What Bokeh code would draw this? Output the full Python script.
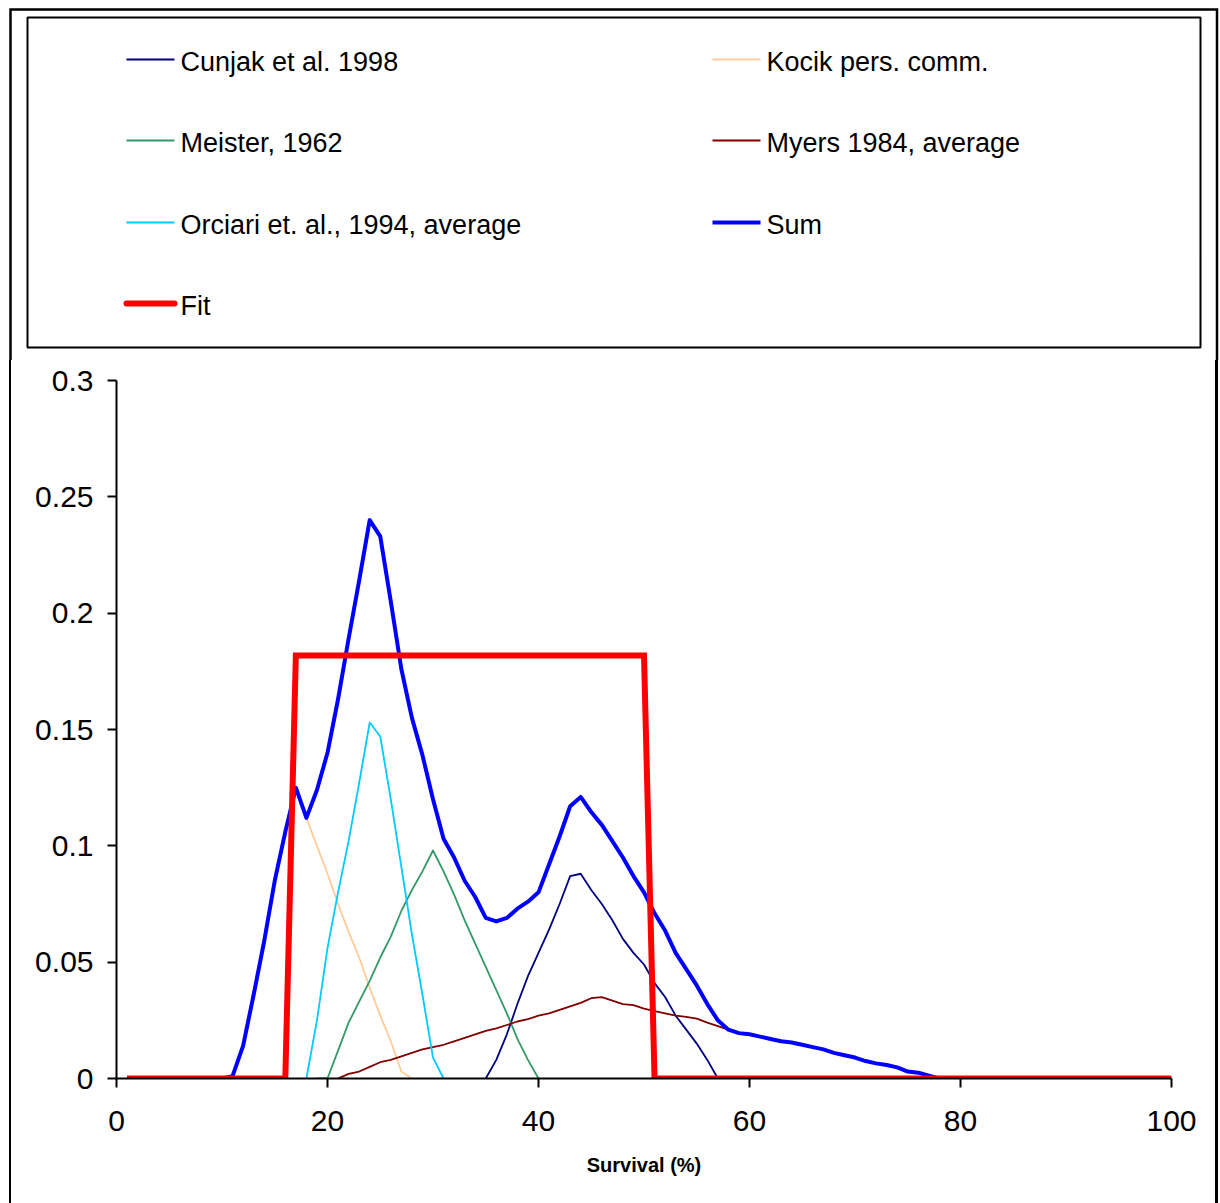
from bokeh.plotting import figure
from bokeh.layouts import column, row
from bokeh.models import FixedTicker, Range1d, Div
from bokeh.core.properties import value
from bokeh.embed import file_html
from bokeh.resources import INLINE

# ---------------- data ----------------
survival = list(range(1, 101))

sum_y = [0, 0, 0, 0, 0, 0, 0, 0, 0, 0,
         0.001, 0.014, 0.036, 0.059, 0.085, 0.106, 0.125, 0.112, 0.124, 0.140,
         0.163, 0.189, 0.214, 0.240, 0.233, 0.205, 0.176, 0.155, 0.139, 0.120,
         0.103, 0.095, 0.085, 0.078, 0.069, 0.0675, 0.069, 0.073, 0.076, 0.080,
         0.092, 0.104, 0.117, 0.121, 0.1145, 0.109, 0.102, 0.095, 0.087, 0.080,
         0.071, 0.0636, 0.054, 0.047, 0.040, 0.032, 0.025, 0.021, 0.0195, 0.019,
         0.018, 0.017, 0.016, 0.0155, 0.0145, 0.0135, 0.0125, 0.011, 0.010, 0.009,
         0.0075, 0.0065, 0.0058, 0.0048, 0.003, 0.0025, 0.0012, 0, 0, 0,
         0, 0, 0, 0, 0, 0, 0, 0, 0, 0,
         0, 0, 0, 0, 0, 0, 0, 0, 0, 0]

cunjak_x = list(range(35, 58))
cunjak_y = [0, 0.008, 0.019, 0.032, 0.044, 0.054, 0.064, 0.075, 0.087, 0.088,
            0.081, 0.075, 0.068, 0.060, 0.054, 0.049, 0.041, 0.035, 0.027, 0.021,
            0.015, 0.008, 0]

kocik_x = list(range(11, 29))
kocik_y = [0.001, 0.014, 0.036, 0.059, 0.085, 0.106, 0.125, 0.112, 0.100, 0.088,
           0.075, 0.063, 0.052, 0.039, 0.027, 0.016, 0.003, 0]

meister_x = list(range(19, 41))
meister_y = [0, 0, 0.012, 0.024, 0.033, 0.042, 0.052, 0.061, 0.072, 0.081,
             0.089, 0.098, 0.089, 0.079, 0.068, 0.058, 0.048, 0.038, 0.028, 0.017,
             0.008, 0]

myers_x = list(range(21, 79))
myers_y = [0, 0.002, 0.003, 0.005, 0.007, 0.008, 0.0095, 0.011, 0.0125, 0.0135,
           0.0145, 0.016, 0.0175, 0.019, 0.0205, 0.0215, 0.023, 0.0245, 0.0255, 0.027,
           0.028, 0.0295, 0.031, 0.0325, 0.0345, 0.035, 0.0335, 0.032, 0.0315, 0.030,
           0.029, 0.028, 0.027, 0.0265, 0.0257, 0.024, 0.0225, 0.021, 0.0195, 0.019,
           0.018, 0.017, 0.016, 0.0155, 0.0145, 0.0135, 0.0125, 0.011, 0.010, 0.009,
           0.0075, 0.0065, 0.0058, 0.0048, 0.003, 0.0025, 0.0012, 0]

orciari_x = list(range(18, 32))
orciari_y = [0, 0.025, 0.056, 0.080, 0.102, 0.127, 0.153, 0.147, 0.120, 0.091,
             0.062, 0.036, 0.009, 0]

fit_x = [1, 16, 17, 50, 51, 100]
fit_y = [0, 0, 0.1818, 0.1818, 0, 0]

x_ticks = [0, 20, 40, 60, 80, 100]
y_ticks = [0, 0.05, 0.1, 0.15, 0.2, 0.25, 0.3]
y_tick_labels = ["0", "0.05", "0.1", "0.15", "0.2", "0.25", "0.3"]

series_names = ["Cunjak et al. 1998", "Kocik pers. comm.", "Meister, 1962",
                "Myers 1984, average", "Orciari et. al., 1994, average", "Sum", "Fit"]

# ---------------- styles ----------------
FONT = "Liberation Sans"
styles = {
    "Cunjak et al. 1998": dict(color="#000080", width=1.8),
    "Kocik pers. comm.": dict(color="#FFCC99", width=1.8),
    "Meister, 1962": dict(color="#339966", width=1.8),
    "Myers 1984, average": dict(color="#800000", width=1.8),
    "Orciari et. al., 1994, average": dict(color="#00CCFF", width=1.8),
    "Sum": dict(color="#0000FF", width=4),
    "Fit": dict(color="#FF0000", width=6),
}

W = 1220
TOP_H = 360
BOT_H = 1203 - TOP_H
STRIP = 12


def blank_fig(w, h):
    f = figure(width=w, height=h, output_backend="svg", toolbar_location=None,
               x_range=Range1d(0, w), y_range=Range1d(h, 0),
               x_axis_location=None, y_axis_location=None,
               min_border=0, min_border_left=0, min_border_right=0,
               min_border_top=0, min_border_bottom=0)
    f.outline_line_color = None
    f.grid.visible = False
    f.background_fill_color = "white"
    f.border_fill_color = "white"
    return f


# ---------------- legend panel (top) ----------------
top = blank_fig(W, TOP_H)
# chart-area border (top, left, right parts)
top.multi_line(xs=[[10, 10, 1216.5, 1216.5]], ys=[[TOP_H, 9, 9, TOP_H]],
               line_color="black", line_width=2.5, line_join="miter")
# legend frame
top.quad(left=[27], right=[1200], top=[17], bottom=[347],
         fill_color=None, line_color="black", line_width=2)

col_x = [126, 712]
row_y = [59, 140, 222, 303]
# legend reads across rows, two columns
for i, name in enumerate(series_names):
    cx = col_x[i % 2]
    ry = row_y[i // 2]
    st = styles[name]
    top.line([cx, cx + 48], [ry, ry], line_color=st["color"], line_width=st["width"],
             line_cap="round" if name == "Fit" else "butt")
    top.text(x=[cx + 54], y=[ry + 2], text=[name],
             text_font=value(FONT), text_font_size="27px", text_color="black",
             text_baseline="middle", text_align="left")

# ---------------- side strips (chart-area border) ----------------
left_strip = Div(width=STRIP, height=BOT_H, margin=0,
                 text='<div style="margin-left:8.75px;width:2.5px;height:%dpx;background:black"></div>' % BOT_H)
right_strip = Div(width=STRIP, height=BOT_H, margin=0,
                  text='<div style="margin-left:7.25px;width:2.5px;height:%dpx;background:black"></div>' % BOT_H)

# ---------------- main chart ----------------
p = figure(width=W - 2 * STRIP, height=BOT_H, output_backend="svg", toolbar_location=None,
           x_range=Range1d(0, 100), y_range=Range1d(0, 0.3),
           min_border_left=116 - STRIP, min_border_right=(W - STRIP) - 1171,
           min_border_top=380 - TOP_H, min_border_bottom=125)
p.outline_line_color = None
p.grid.visible = False
p.background_fill_color = "white"
p.border_fill_color = "white"

def draw(name, xs, ys, join="round"):
    st = styles[name]
    return p.line(xs, ys, line_color=st["color"], line_width=st["width"], line_join=join)

draw("Cunjak et al. 1998", cunjak_x, cunjak_y)
draw("Kocik pers. comm.", kocik_x, kocik_y)
draw("Meister, 1962", meister_x, meister_y)
draw("Myers 1984, average", myers_x, myers_y)
draw("Orciari et. al., 1994, average", orciari_x, orciari_y)
draw("Sum", survival, sum_y)
draw("Fit", fit_x, fit_y, join="miter")

p.xaxis.ticker = FixedTicker(ticks=x_ticks)
p.yaxis.ticker = FixedTicker(ticks=y_ticks)
p.yaxis.major_label_overrides = {t: l for t, l in zip(y_ticks, y_tick_labels)}
for ax in (p.xaxis[0], p.yaxis[0]):
    ax.axis_line_width = 2
    ax.axis_line_color = "black"
    ax.major_tick_line_width = 2
    ax.major_tick_line_color = "black"
    ax.major_tick_in = 0
    ax.major_tick_out = 9
    ax.minor_tick_line_color = None
    ax.major_label_text_font = FONT
    ax.major_label_text_font_size = "30px"
    ax.major_label_text_color = "black"
p.xaxis.major_label_standoff = 23
p.yaxis.major_label_standoff = 14
p.xaxis.axis_label = "Survival (%)"
p.xaxis.axis_label_text_font = FONT
p.xaxis.axis_label_text_font_size = "20px"
p.xaxis.axis_label_text_font_style = "bold"
p.xaxis.axis_label_text_color = "black"
p.xaxis.axis_label_standoff = 20

layout = column(top, row(left_strip, p, right_strip, spacing=0), spacing=0)

open("out.html", "w").write(file_html(layout, INLINE))
